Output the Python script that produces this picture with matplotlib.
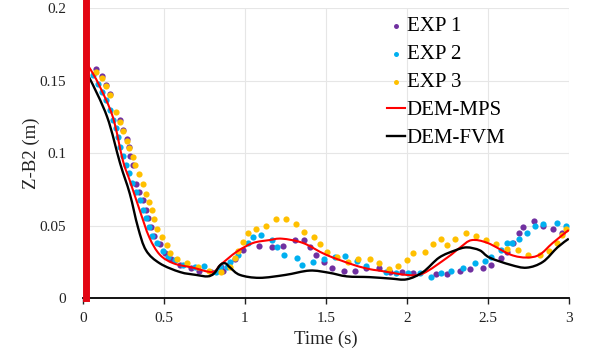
import matplotlib
matplotlib.use('Agg')
import matplotlib.pyplot as plt
import numpy as np
from matplotlib.path import Path
from matplotlib.patches import PathPatch

plt.rcParams['font.family'] = ['Liberation Serif', 'DejaVu Serif']

# EXP 1 (purple dots)
t_exp1 = [0.08, 0.12, 0.142, 0.167, 0.228, 0.245, 0.27, 0.284, 0.294, 0.31, 0.33, 0.346, 0.37,
          0.39, 0.40, 0.42, 0.44, 0.475, 0.506, 0.547, 0.60, 0.67, 0.72, 0.79, 0.856, 0.865,
          0.94, 0.99, 1.09, 1.165, 1.235, 1.31, 1.365, 1.405, 1.44, 1.49, 1.54, 1.61, 1.68,
          1.75, 1.83, 1.895, 1.97, 2.04, 2.18, 2.25, 2.33, 2.39, 2.47, 2.52, 2.58, 2.62, 2.655,
          2.69, 2.72, 2.785, 2.84, 2.90, 2.96]
z_exp1 = [0.158, 0.153, 0.147, 0.141, 0.123, 0.116, 0.110, 0.104, 0.098, 0.092, 0.079, 0.073, 0.068,
          0.061, 0.055, 0.049, 0.043, 0.037, 0.031, 0.027, 0.023, 0.021, 0.019, 0.018, 0.0216, 0.019,
          0.027, 0.033, 0.036, 0.035, 0.036, 0.040, 0.040, 0.035, 0.030, 0.025, 0.021, 0.019, 0.019,
          0.021, 0.021, 0.018, 0.018, 0.017, 0.0165, 0.0165, 0.0186, 0.020, 0.021, 0.023, 0.028, 0.032, 0.038,
          0.045, 0.049, 0.053, 0.050, 0.0476, 0.045]

# EXP 2 (blue dots)
t_exp2 = [0.064, 0.094, 0.12, 0.146, 0.167, 0.187, 0.207, 0.218, 0.228, 0.248, 0.265, 0.284, 0.306,
          0.327, 0.35, 0.37, 0.39, 0.41, 0.43, 0.457, 0.495, 0.526, 0.57, 0.62, 0.69, 0.75, 0.825,
          0.846, 0.887, 0.907, 0.957, 1.02, 1.05, 1.10, 1.165, 1.2, 1.24, 1.32, 1.35, 1.42, 1.49,
          1.555, 1.62, 1.69, 1.745, 1.87, 1.936, 2.01, 2.08, 2.15, 2.21, 2.275, 2.345, 2.42, 2.48,
          2.52, 2.58, 2.62, 2.65, 2.69, 2.74, 2.79, 2.84, 2.93, 2.98]
z_exp2 = [0.154, 0.148, 0.142, 0.1366, 0.130, 0.123, 0.117, 0.111, 0.104, 0.098, 0.092, 0.086, 0.0796,
          0.073, 0.0676, 0.061, 0.055, 0.049, 0.043, 0.038, 0.0326, 0.0285, 0.026, 0.023, 0.0216, 0.022, 0.018,
          0.0216, 0.0216, 0.025, 0.0297, 0.038, 0.042, 0.0434, 0.040, 0.035, 0.030, 0.0274, 0.023, 0.025, 0.027,
          0.0285, 0.029, 0.0257, 0.022, 0.018, 0.017, 0.017, 0.0175, 0.0145, 0.017, 0.019, 0.0207, 0.024, 0.0257,
          0.0285, 0.033, 0.038, 0.038, 0.041, 0.045, 0.050, 0.051, 0.0517, 0.0497]

# EXP 3 (yellow dots)
t_exp3 = [0.08, 0.12, 0.142, 0.17, 0.207, 0.232, 0.248, 0.27, 0.284, 0.31, 0.32, 0.346, 0.37, 0.39,
          0.407, 0.424, 0.438, 0.457, 0.486, 0.517, 0.537, 0.58, 0.64, 0.71, 0.78, 0.856, 0.907,
          0.94, 0.957, 0.99, 1.02, 1.07, 1.13, 1.195, 1.257, 1.315, 1.365, 1.425, 1.467, 1.506,
          1.566, 1.636, 1.70, 1.77, 1.83, 1.89, 1.945, 2.0, 2.04, 2.11, 2.16, 2.21, 2.25, 2.30,
          2.364, 2.43, 2.49, 2.55, 2.62, 2.685, 2.75, 2.82, 2.88, 2.93, 2.96, 2.985]
z_exp3 = [0.156, 0.1515, 0.146, 0.140, 0.1285, 0.1216, 0.115, 0.1085, 0.1034, 0.0975, 0.0917, 0.0855, 0.079, 0.072,
          0.066, 0.0607, 0.0545, 0.048, 0.042, 0.0366, 0.031, 0.027, 0.0243, 0.0214, 0.019, 0.018, 0.0216,
          0.0274, 0.0326, 0.039, 0.045, 0.0474, 0.050, 0.0543, 0.0543, 0.051, 0.0457, 0.042, 0.037, 0.032,
          0.0285, 0.025, 0.027, 0.027, 0.024, 0.020, 0.022, 0.026, 0.031, 0.0317, 0.037, 0.0407, 0.0366, 0.0407,
          0.0446, 0.0430, 0.040, 0.037, 0.034, 0.033, 0.030, 0.0297, 0.0326, 0.0377, 0.0434, 0.0476]

# DEM-MPS (red line)
t_mps = [0.02, 0.04, 0.10, 0.185, 0.247, 0.29, 0.35, 0.41, 0.475, 0.56, 0.68, 0.80, 0.85, 0.95,
         1.05, 1.15, 1.23, 1.36, 1.50, 1.67, 1.77, 1.83, 2.0, 2.10, 2.25, 2.33, 2.40, 2.50, 2.64,
         2.74, 2.82, 2.90, 3.0]
z_mps = [0.161, 0.159, 0.147, 0.125, 0.095, 0.081, 0.061, 0.042, 0.030, 0.024, 0.021, 0.018, 0.023, 0.032,
         0.038, 0.040, 0.041, 0.038, 0.030, 0.023, 0.020, 0.019, 0.016, 0.017, 0.028, 0.035, 0.040, 0.038, 0.030,
         0.028, 0.030, 0.038, 0.047]

# DEM-FVM (black line)
t_fvm = [0.02, 0.04, 0.15, 0.23, 0.29, 0.34, 0.39, 0.475, 0.60, 0.70, 0.77, 0.81, 0.85, 0.88, 0.91,
         0.97, 1.09, 1.25, 1.40, 1.52, 1.63, 1.77, 1.90, 2.0, 2.10, 2.20, 2.30, 2.37, 2.45, 2.51, 2.64,
         2.74, 2.84, 2.93, 3.0]
z_fvm = [0.154, 0.152, 0.125, 0.093, 0.072, 0.049, 0.033, 0.024, 0.018, 0.016, 0.015, 0.017, 0.023, 0.024, 0.021,
         0.016, 0.014, 0.016, 0.019, 0.0175, 0.015, 0.0145, 0.0135, 0.013, 0.018, 0.028, 0.033, 0.035, 0.033, 0.028, 0.023,
         0.021, 0.025, 0.035, 0.041]

x_ticks = [0, 0.5, 1, 1.5, 2, 2.5, 3]
x_ticklabels = ['0', '0.5', '1', '1.5', '2', '2.5', '3']
y_ticks = [0, 0.05, 0.1, 0.15, 0.2]
y_ticklabels = ['0', '0.05', '0.1', '0.15', '0.2']


def smooth_path(x, y):
    # Excel-style smoothed line: Catmull-Rom segments drawn as cubic Beziers
    p = np.column_stack([x, y])
    ext = np.vstack([p[0], p, p[-1]])
    verts = [p[0]]
    codes = [Path.MOVETO]
    for i in range(1, len(ext) - 2):
        c1 = ext[i] + (ext[i + 1] - ext[i - 1]) / 6
        c2 = ext[i + 1] - (ext[i + 2] - ext[i]) / 6
        verts += [c1, c2, ext[i + 1]]
        codes += [Path.CURVE4] * 3
    return Path(verts, codes)


fig = plt.figure(figsize=(6.09, 3.52), dpi=100)
ax = fig.add_axes([0.136, 0.153, 0.798, 0.824])

ax.scatter(t_exp1, z_exp1, s=20, color='#7030A0', linewidths=0, label='EXP 1', zorder=3)
ax.scatter(t_exp2, z_exp2, s=20, color='#00B0F0', linewidths=0, label='EXP 2', zorder=3)
ax.scatter(t_exp3, z_exp3, s=20, color='#FFC000', linewidths=0, label='EXP 3', zorder=3)

# smooth curves + invisible handles for the legend
ax.add_patch(PathPatch(smooth_path(t_mps, z_mps), fill=False, edgecolor='#FF0000', lw=1.5, zorder=4))
ax.add_patch(PathPatch(smooth_path(t_fvm, z_fvm), fill=False, edgecolor='black', lw=1.7, zorder=4))
ax.plot([], [], color='#FF0000', lw=1.5, label='DEM-MPS')
ax.plot([], [], color='black', lw=1.7, label='DEM-FVM')

ax.set_xlim(0, 3)
ax.set_ylim(0, 0.2)
ax.set_xticks(x_ticks)
ax.set_xticklabels(x_ticklabels)
ax.set_yticks(y_ticks)
ax.set_yticklabels(y_ticklabels)
ax.tick_params(axis='x', length=4, width=1, pad=6, labelsize=11, colors='#222222')
ax.tick_params(axis='y', length=0, pad=14, labelsize=11, colors='#222222')

ax.grid(True, color='#e6e6e6', lw=0.8, zorder=0)
ax.set_axisbelow(True)

for side in ['top', 'right']:
    ax.spines[side].set_visible(False)
ax.spines['bottom'].set_linewidth(1.3)
ax.spines['bottom'].set_color('black')
# thick red bar at the left
ax.spines['left'].set_color('#E30613')
ax.spines['left'].set_linewidth(5)
ax.spines['left'].set_position(('data', 0.017))
ax.spines['left'].set_bounds(0, 0.206)
ax.spines['left'].set_zorder(5)

ax.set_xlabel('Time (s)', fontsize=13.5, color='#222222', labelpad=4)
ax.set_ylabel('Z-B2 (m)', fontsize=13.5, color='#222222', labelpad=0)

ax.legend(loc='upper left', bbox_to_anchor=(0.626, 0.97), frameon=False, fontsize=15,
          borderaxespad=0, borderpad=0, handlelength=0.85, handletextpad=0.1,
          labelspacing=0.4, scatterpoints=1, markerscale=0.8)

plt.savefig('out.png', dpi=100)
